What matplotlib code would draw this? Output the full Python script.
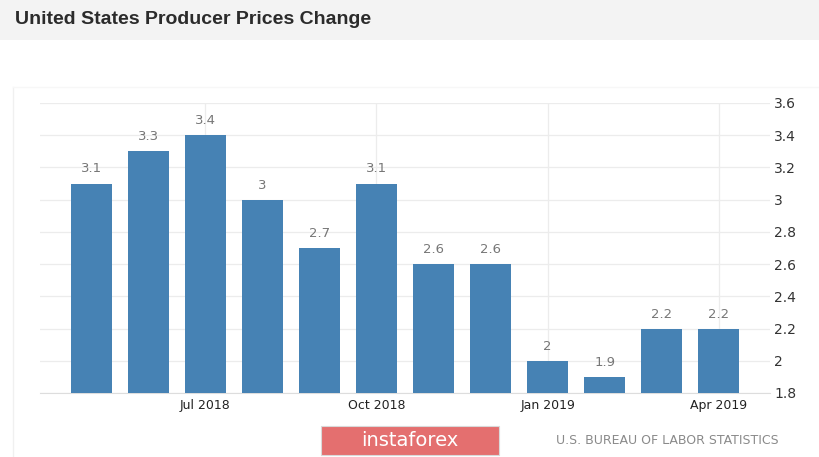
import matplotlib
matplotlib.use("Agg")
import matplotlib.pyplot as plt
from matplotlib.patches import Rectangle

months = ["May 2018", "Jun 2018", "Jul 2018", "Aug 2018", "Sep 2018", "Oct 2018",
          "Nov 2018", "Dec 2018", "Jan 2019", "Feb 2019", "Mar 2019", "Apr 2019"]
values = [3.1, 3.3, 3.4, 3.0, 2.7, 3.1, 2.6, 2.6, 2.0, 1.9, 2.2, 2.2]
value_labels = ["3.1", "3.3", "3.4", "3", "2.7", "3.1", "2.6", "2.6", "2", "1.9", "2.2", "2.2"]
xtick_months = ["Jul 2018", "Oct 2018", "Jan 2019", "Apr 2019"]
yticks = [1.8, 2.0, 2.2, 2.4, 2.6, 2.8, 3.0, 3.2, 3.4, 3.6]
ytick_labels = ["1.8", "2", "2.2", "2.4", "2.6", "2.8", "3", "3.2", "3.4", "3.6"]

W, H = 820, 457
fig = plt.figure(figsize=(W / 100, H / 100), dpi=100)
fig.patch.set_facecolor("white")

# title bar
fig.patches.append(Rectangle((0, 1 - 40 / H), 1, 40 / H, transform=fig.transFigure,
                             facecolor="#f3f3f3", edgecolor="none", zorder=0))
fig.text(15 / W, 1 - 19 / H, "United States Producer Prices Change", fontsize=14,
         fontweight="bold", color="#2b2b2b", va="center", ha="left",
         family=["Liberation Sans", "DejaVu Sans"])

# faint frame line on the left
fig.add_artist(plt.Line2D([13 / W, 13 / W], [0, 1 - 87 / H], transform=fig.transFigure,
                          color="#f0f0f0", lw=1))
fig.add_artist(plt.Line2D([13 / W, 1], [1 - 87 / H, 1 - 87 / H], transform=fig.transFigure,
                          color="#f7f7f7", lw=1))

left, right = 40 / W, 770 / W
bottom, top = (H - 393) / H, (H - 103) / H
ax = fig.add_axes([left, bottom, right - left, top - bottom])
x = list(range(len(months)))
ax.bar(x, values, width=0.72, color="#4682b4", zorder=3)
for xi, v, lab in zip(x, values, value_labels):
    ax.text(xi, v + 0.05, lab, ha="center", va="bottom", fontsize=9.5, color="#777777",
            family=["DejaVu Sans"])

ax.set_xlim(-0.9, 11.9)
ax.set_ylim(1.8, 3.6)
ax.yaxis.tick_right()
ax.set_yticks(yticks)
ax.set_yticklabels(ytick_labels, fontsize=10, color="#333333")
xt = [months.index(m) for m in xtick_months]
ax.set_xticks(xt)
ax.set_xticklabels(xtick_months, fontsize=9, color="#222222")
ax.tick_params(axis="both", length=0, pad=4)
ax.tick_params(axis="y", pad=3)
ax.grid(True, color="#ececec", lw=0.9, zorder=0)
for s in ["top", "left", "right"]:
    ax.spines[s].set_visible(False)
ax.spines["bottom"].set_color("#dddddd")

# watermark box
fig.patches.append(Rectangle((321 / W, (H - 455) / H), 178 / W, 29 / H, transform=fig.transFigure,
                             facecolor="#e46f6f", edgecolor="#d9d9d9", lw=0.8, zorder=1))
fig.text(410 / W, (H - 440) / H, "instaforex", fontsize=14, color="white",
         ha="center", va="center", zorder=2)
fig.text(779 / W, (H - 440) / H, "U.S. BUREAU OF LABOR STATISTICS", fontsize=9,
         color="#8a8a8a", ha="right", va="center")

fig.savefig("out.png", dpi=100)
